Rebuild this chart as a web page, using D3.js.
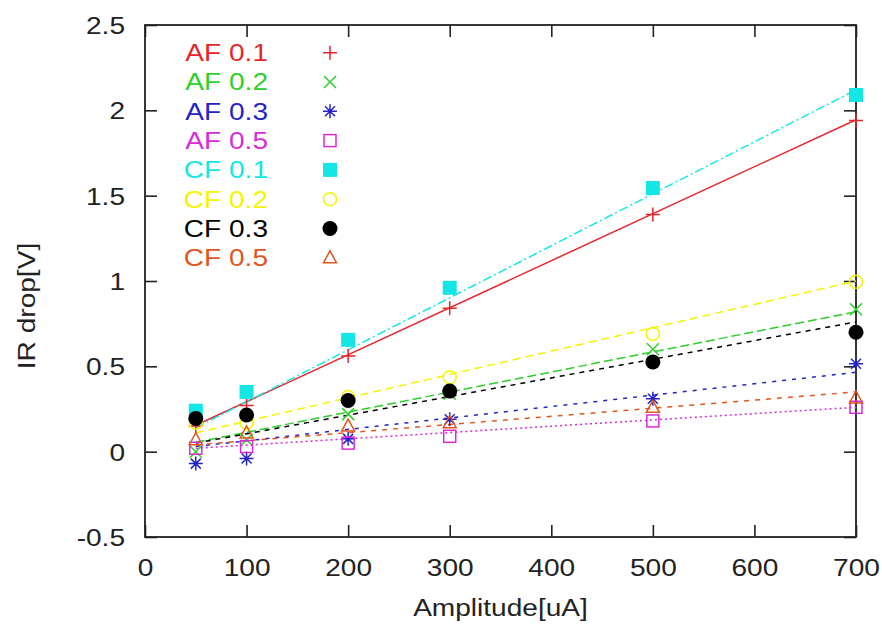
<!DOCTYPE html>
<html>
<head>
<meta charset="utf-8">
<script src="https://cdn.jsdelivr.net/npm/d3@7"></script>
<style>
  body { margin: 0; background: #fff; }
  svg { display: block; }
  text { font-family: "Liberation Sans", Arial, sans-serif; }
</style>
</head>
<body>
<div id="chart"></div>
<script>
// amplitudes measured
const amps = [50, 100, 200, 300, 500, 700]
const seriesNames = ["AF 0.1", "AF 0.2", "AF 0.3", "AF 0.5", "CF 0.1", "CF 0.2", "CF 0.3", "CF 0.5"]

// IR drop [V] per series
const af01 = [0.15, 0.27, 0.56, 0.84, 1.39, 1.94]
const af02 = [0.0, 0.07, 0.22, 0.34, 0.60, 0.835]
const af03 = [-0.07, -0.04, 0.075, 0.19, 0.31, 0.515]
const af05 = [0.02, 0.03, 0.05, 0.09, 0.18, 0.26]
const cf01 = [0.24, 0.35, 0.655, 0.96, 1.545, 2.09]
const cf02 = [0.17, 0.17, 0.32, 0.435, 0.69, 0.995]
const cf03 = [0.195, 0.215, 0.30, 0.355, 0.525, 0.70]
const cf05 = [0.07, 0.11, 0.15, 0.17, 0.26, 0.315]

// fitted lines, value at 50uA and 700uA
const fitAmps = [50, 700]
const fitAF01 = [0.155, 1.945]
const fitAF02 = [0.055, 0.82]
const fitAF03 = [0.03, 0.465]
const fitAF05 = [0.02, 0.26]
const fitCF01 = [0.14, 2.12]
const fitCF02 = [0.11, 1.0]
const fitCF03 = [0.05, 0.76]
const fitCF05 = [0.04, 0.35]

const xTicks = [0, 100, 200, 300, 400, 500, 600, 700]
const yTicks = [-0.5, 0, 0.5, 1, 1.5, 2, 2.5]

const values = [af01, af02, af03, af05, cf01, cf02, cf03, cf05]
const fits = [fitAF01, fitAF02, fitAF03, fitAF05, fitCF01, fitCF02, fitCF03, fitCF05]
const colors = ["#e4262b", "#2ccf2c", "#2424c6", "#d82bd8", "#14e6e6", "#f4f400", "#000000", "#e0561f"]
const dashes = [null, "9,4", "4,6", "2,3", "9,3,2,3", "8,5", "5,5", "5,6"]
const markers = ["plus", "times", "star", "square", "squareFill", "circle", "circleFill", "triangle"]

const W = 882, H = 624
const SX = 1.17   // glyphs in the picture are a bit wide

const svg = d3.select("#chart").append("svg")
  .attr("width", W)
  .attr("height", H)

const x = d3.scaleLinear().domain([0, 700]).range([145, 856])
const y = d3.scaleLinear().domain([-0.5, 2.5]).range([537, 25])

const fmt = d => String(d)

// axes, ticks point inward on all four sides
const axLeft = svg.append("g").attr("transform", `translate(${x(0)},0)`)
  .call(d3.axisLeft(y).tickValues(yTicks).tickFormat(fmt).tickSizeInner(-12).tickSizeOuter(0).tickPadding(20))
const axRight = svg.append("g").attr("transform", `translate(${x(700)},0)`)
  .call(d3.axisRight(y).tickValues(yTicks).tickFormat("").tickSizeInner(-12).tickSizeOuter(0))
const axBottom = svg.append("g").attr("transform", `translate(0,${y(-0.5)})`)
  .call(d3.axisBottom(x).tickValues(xTicks).tickFormat(fmt).tickSizeInner(-12).tickSizeOuter(0).tickPadding(22))
const axTop = svg.append("g").attr("transform", `translate(0,${y(2.5)})`)
  .call(d3.axisTop(x).tickValues(xTicks).tickFormat("").tickSizeInner(-12).tickSizeOuter(0))

;[axLeft, axRight, axBottom, axTop].forEach(g => {
  g.select(".domain").remove()
  g.selectAll(".tick line").attr("stroke", "#222").attr("stroke-width", 1.6)
  g.selectAll(".tick text").attr("fill", "#222").attr("font-size", 24)
})
axLeft.selectAll(".tick text")
  .attr("x", -20 / SX)
  .attr("dy", "0.36em")
  .attr("transform", `scale(${SX},1)`)
axBottom.selectAll(".tick text")
  .attr("y", 22)
  .attr("transform", `scale(${SX},1)`)

svg.append("rect")
  .attr("x", x(0)).attr("y", y(2.5))
  .attr("width", x(700) - x(0)).attr("height", y(-0.5) - y(2.5))
  .attr("fill", "none").attr("stroke", "#222").attr("stroke-width", 1.8)

svg.append("text")
  .attr("transform", `translate(27,${(y(2.5) + y(-0.5)) / 2 + 25}) rotate(-90) scale(${SX},1)`)
  .attr("text-anchor", "middle")
  .attr("dy", "0.35em")
  .attr("font-size", 24)
  .attr("fill", "#222")
  .text("IR drop[V]")

svg.append("text")
  .attr("transform", `translate(${(x(0) + x(700)) / 2},608) scale(${SX},1)`)
  .attr("text-anchor", "middle")
  .attr("dy", "0.35em")
  .attr("font-size", 24)
  .attr("fill", "#222")
  .text("Amplitude[uA]")

function drawMarker(g, type, color) {
  const sw = 1.5
  if (type === "plus") {
    g.append("path").attr("d", "M-7,0H7M0,-7V7").attr("stroke", color).attr("stroke-width", sw)
  } else if (type === "times") {
    g.append("path").attr("d", "M-6,-6L6,6M-6,6L6,-6").attr("stroke", color).attr("stroke-width", sw)
  } else if (type === "star") {
    g.append("path").attr("d", "M-7,0H7M0,-7V7M-5,-5L5,5M-5,5L5,-5").attr("stroke", color).attr("stroke-width", sw)
  } else if (type === "square") {
    g.append("rect").attr("x", -6).attr("y", -6).attr("width", 12).attr("height", 12)
      .attr("fill", "none").attr("stroke", color).attr("stroke-width", sw)
  } else if (type === "squareFill") {
    g.append("rect").attr("x", -7).attr("y", -7).attr("width", 14).attr("height", 14).attr("fill", color)
  } else if (type === "circle") {
    g.append("circle").attr("r", 6.5).attr("fill", "none").attr("stroke", color).attr("stroke-width", sw)
  } else if (type === "circleFill") {
    g.append("circle").attr("r", 7.5).attr("fill", color)
  } else if (type === "triangle") {
    g.append("path").attr("d", "M0,-7L6.5,5L-6.5,5Z").attr("fill", "none").attr("stroke", color).attr("stroke-width", sw)
  }
}

// fit lines
const line = d3.line().x(d => x(d[0])).y(d => y(d[1]))
const fitG = svg.append("g").attr("fill", "none")
fits.forEach((f, i) => {
  fitG.append("path")
    .datum(fitAmps.map((a, j) => [a, f[j]]))
    .attr("d", line)
    .attr("stroke", colors[i])
    .attr("stroke-width", 1.5)
    .attr("stroke-dasharray", dashes[i])
})

// data points
const ptsG = svg.append("g")
values.forEach((vals, i) => {
  vals.forEach((v, j) => {
    const g = ptsG.append("g").attr("transform", `translate(${x(amps[j])},${y(v)})`)
    drawMarker(g, markers[i], colors[i])
  })
})

// legend
const leg = svg.append("g")
seriesNames.forEach((name, i) => {
  const ly = 52.7 + i * 29.3
  leg.append("text")
    .attr("transform", `translate(268,${ly}) scale(${SX},1)`)
    .attr("text-anchor", "end")
    .attr("dy", "0.35em")
    .attr("font-size", 24)
    .attr("fill", colors[i])
    .text(name)
  drawMarker(leg.append("g").attr("transform", `translate(330,${ly})`), markers[i], colors[i])
})
</script>
</body>
</html>
